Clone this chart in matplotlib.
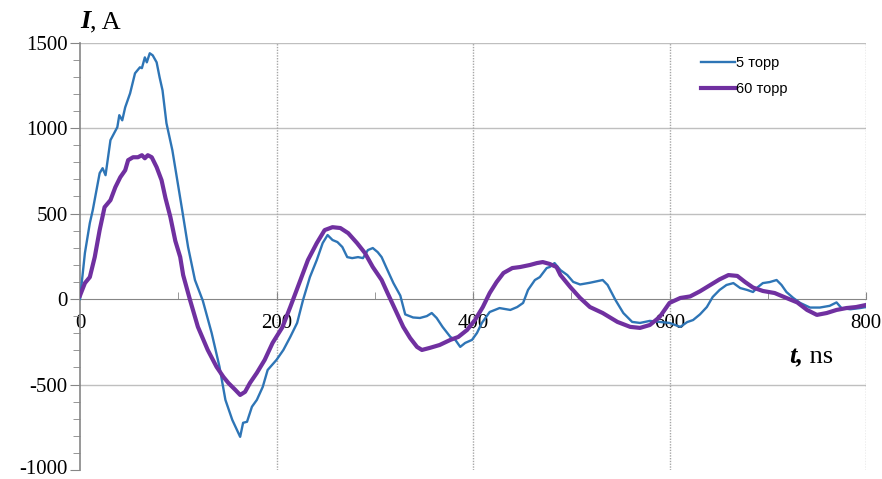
import matplotlib
matplotlib.use("Agg")
import matplotlib.pyplot as plt
from matplotlib.ticker import MultipleLocator
from matplotlib.transforms import ScaledTranslation

plt.rcParams["axes.unicode_minus"] = False

# 5 torr (blue)
t_5torr = [0, 5, 10, 13, 20, 23, 26, 31, 38, 40, 43, 46, 51, 56, 61, 63, 66, 68, 71, 74,
           78, 81, 84, 88, 94, 99, 104, 110, 117, 125, 134, 142, 148, 155, 163, 166, 170,
           175, 180, 186, 191, 200, 207, 214, 221, 227, 234, 241, 247, 252, 257, 262, 267,
           272, 277, 283, 288, 293, 298, 303, 307, 312, 319, 326, 331, 339, 346, 353, 358,
           363, 369, 377, 382, 387, 392, 399, 404, 409, 417, 427, 438, 445, 451, 456, 463,
           468, 475, 478, 483, 489, 496, 502, 509, 519, 532, 537, 545, 553, 562, 570, 580,
           590, 600, 611, 618, 624, 631, 638, 644, 651, 658, 665, 672, 679, 685, 690, 695,
           702, 709, 714, 719, 726, 733, 743, 753, 763, 770, 775, 784, 794, 800]
i_5torr = [0, 269, 444, 520, 736, 765, 724, 929, 1005, 1075, 1045, 1121, 1203, 1320, 1355,
           1350, 1413, 1384, 1437, 1425, 1384, 1297, 1220, 1028, 870, 695, 520, 304, 111,
           -10, -199, -397, -590, -707, -806, -724, -718, -630, -590, -514, -415, -356,
           -298, -222, -140, -6, 128, 228, 327, 374, 345, 333, 304, 245, 239, 245, 239,
           286, 298, 274, 245, 181, 93, 20, -90, -108, -111, -100, -82, -111, -163, -222,
           -239, -280, -257, -239, -199, -140, -76, -53, -64, -47, -23, 53, 111, 128, 181,
           187, 210, 169, 140, 100, 85, 95, 111, 82, -6, -82, -134, -140, -128, -134, -140,
           -163, -135, -123, -90, -47, 12, 53, 82, 93, 64, 53, 41, 70, 93, 99, 111, 82, 41,
           6, -23, -50, -50, -40, -20, -53, -60, -53, -47]

# 60 torr (purple)
t_60torr = [0, 5, 10, 15, 20, 25, 31, 36, 41, 46, 49, 54, 59, 63, 66, 69, 73, 78, 83, 87,
            92, 97, 102, 105, 112, 120, 130, 139, 146, 151, 158, 163, 168, 173, 180, 188,
            196, 206, 214, 222, 232, 241, 249, 257, 265, 273, 282, 290, 298, 307, 313, 321,
            329, 336, 343, 348, 356, 366, 377, 385, 394, 402, 410, 417, 424, 431, 440, 448,
            458, 465, 471, 478, 485, 489, 499, 509, 519, 532, 547, 560, 570, 580, 590, 600,
            611, 621, 631, 641, 651, 660, 669, 677, 685, 695, 707, 719, 730, 740, 750, 760,
            770, 780, 790, 800]
i_60torr = [20, 93, 128, 245, 403, 537, 578, 654, 712, 753, 812, 829, 829, 841, 823, 841,
            829, 771, 695, 590, 479, 340, 245, 140, -6, -163, -298, -397, -456, -491, -531,
            -561, -543, -491, -432, -356, -257, -165, -47, 75, 228, 327, 403, 420, 415, 385,
            327, 269, 187, 111, 35, -64, -163, -228, -280, -298, -286, -269, -239, -222,
            -181, -123, -47, 35, 99, 152, 181, 187, 199, 210, 216, 205, 187, 140, 70, 6,
            -47, -82, -134, -163, -169, -152, -105, -23, 6, 15, 45, 80, 115, 140, 135, 99,
            67, 47, 35, 6, -20, -64, -93, -82, -64, -53, -47, -35]

labels = ["5 торр", "60 торр"]

fig = plt.figure(figsize=(8.82, 4.79), dpi=100)
ax = fig.add_axes([80 / 882, 1 - 470 / 479, 786 / 882, (470 - 42.5) / 479])

ax.plot(t_5torr, i_5torr, color="#2E75B6", lw=1.7, label=labels[0], zorder=3)
ax.plot(t_60torr, i_60torr, color="#7030A0", lw=3.0, label=labels[1], zorder=4)

ax.set_xlim(0, 800)
ax.set_ylim(-1000, 1500)

for s in ["top", "right"]:
    ax.spines[s].set_visible(False)
ax.spines["bottom"].set_position(("data", 0))
ax.spines["bottom"].set_color("#868686")
ax.spines["left"].set_color("#868686")
ax.spines["left"].set_linewidth(1.2)

ax.xaxis.set_major_locator(MultipleLocator(200))
ax.xaxis.set_minor_locator(MultipleLocator(100))
ax.yaxis.set_major_locator(MultipleLocator(500))
ax.yaxis.set_minor_locator(MultipleLocator(100))

ax.tick_params(axis="x", which="both", direction="in", length=5, color="#868686",
               labelsize=15, pad=11)
ax.tick_params(axis="y", which="major", direction="out", length=7, color="#868686",
               labelsize=15, pad=2)
ax.tick_params(axis="y", which="minor", direction="out", length=5, color="#868686")
for lab in ax.get_xticklabels() + ax.get_yticklabels():
    lab.set_fontfamily("Liberation Serif")

# lift the bottom label a little so it stays inside the picture
fig.canvas.draw()
for tick in ax.yaxis.get_major_ticks():
    if abs(tick.get_loc() + 1000) < 1:
        lab = tick.label1
        lab.set_transform(lab.get_transform() + ScaledTranslation(0, 3 / 100, fig.dpi_scale_trans))

# grid: solid horizontal, dotted vertical
for y in [-500, 500, 1000, 1500]:
    ax.axhline(y, color="#BFBFBF", lw=1.0, zorder=1)
for x in [200, 400, 600, 800]:
    ax.axvline(x, color="#A6A6A6", lw=1.0, ls=(0, (1, 1)), zorder=1)

# axis titles
t1 = fig.text(80 / 882, 1 - 28 / 479, "I", fontfamily="Liberation Serif", fontsize=19,
              fontweight="bold", fontstyle="italic", va="baseline")
ax.annotate(", A", xy=(1, 0), xycoords=t1, va="bottom", fontfamily="Liberation Serif",
            fontsize=19)
t2 = fig.text(789 / 882, 1 - 363 / 479, "t,", fontfamily="Liberation Serif", fontsize=19,
              fontweight="bold", fontstyle="italic", va="baseline")
ax.annotate(" ns", xy=(1, 0), xycoords=t2, va="bottom", fontfamily="Liberation Serif",
            fontsize=19)

leg = ax.legend(loc="upper left", bbox_to_anchor=(688 / 882, 1 - 43 / 479),
                bbox_transform=fig.transFigure, frameon=False,
                prop={"family": "Liberation Sans", "size": 10.5},
                handlelength=2.3, handletextpad=0.1, labelspacing=0.8)

fig.savefig("out.png", dpi=100)
